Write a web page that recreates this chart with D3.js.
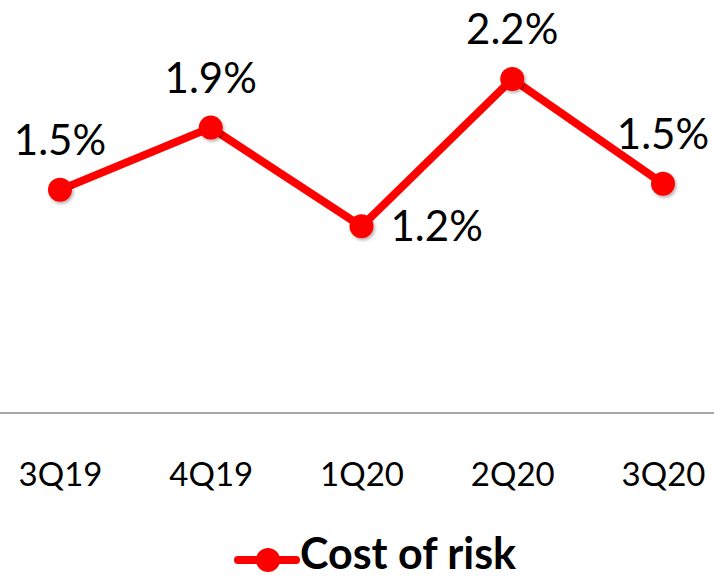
<!DOCTYPE html>
<html>
<head>
<meta charset="utf-8">
<script src="https://cdn.jsdelivr.net/npm/d3@7"></script>
<style>
  html, body { margin: 0; padding: 0; background: #fff; }
  svg { display: block; font-family: Lato, "Open Sans", sans-serif; }
</style>
</head>
<body>
<div id="chart"></div>
<script>
const quarters = ['3Q19', '4Q19', '1Q20', '2Q20', '3Q20'];
const costOfRisk = [1.47, 1.88, 1.23, 2.2, 1.51];
const valueLabels = ['1.5%', '1.9%', '1.2%', '2.2%', '1.5%'];
const labelSide = ['top', 'top', 'right', 'top', 'top'];
const seriesName = 'Cost of risk';

const width = 714, height = 578;
const red = '#ff0000';

const data = quarters.map((q, i) => ({ q, v: costOfRisk[i], label: valueLabels[i], side: labelSide[i] }));

const x = d3.scalePoint()
  .domain(quarters)
  .range([60, 663]);

const y = d3.scaleLinear()
  .domain([0, 2.5])
  .range([413, 33.5]);

const svg = d3.select('#chart').append('svg')
  .attr('width', width)
  .attr('height', height)
  .attr('viewBox', [0, 0, width, height]);

const defs = svg.append('defs');
defs.append('filter')
  .attr('id', 'shadow')
  .attr('x', '-50%').attr('y', '-50%')
  .attr('width', '200%').attr('height', '200%')
  .append('feDropShadow')
  .attr('dx', 1.5).attr('dy', 2)
  .attr('stdDeviation', 1.5)
  .attr('flood-color', '#000')
  .attr('flood-opacity', 0.3);

// baseline + category labels
const xAxis = svg.append('g')
  .attr('transform', `translate(0, ${y(0)})`)
  .call(d3.axisBottom(x).tickSize(0).tickPadding(50));

xAxis.select('.domain').remove();
xAxis.append('line')
  .attr('x1', 0).attr('x2', width)
  .attr('stroke', '#a6a6a6')
  .attr('stroke-width', 2);

xAxis.selectAll('.tick text')
  .attr('fill', '#000')
  .attr('font-family', 'Lato, sans-serif')
  .attr('font-size', 33);

const line = d3.line()
  .x(d => x(d.q))
  .y(d => y(d.v));

svg.append('path')
  .datum(data)
  .attr('fill', 'none')
  .attr('stroke', red)
  .attr('stroke-width', 8)
  .attr('stroke-linejoin', 'round')
  .attr('d', line);

svg.selectAll('circle.pt')
  .data(data)
  .join('circle')
  .attr('class', 'pt')
  .attr('cx', d => x(d.q))
  .attr('cy', d => y(d.v))
  .attr('r', 12)
  .attr('fill', red)
  .attr('filter', 'url(#shadow)');

svg.selectAll('text.val')
  .data(data)
  .join('text')
  .attr('class', 'val')
  .attr('x', d => d.side === 'right' ? x(d.q) + 29 : x(d.q))
  .attr('y', d => d.side === 'right' ? y(d.v) + 15 : y(d.v) - 35)
  .attr('text-anchor', d => d.side === 'right' ? 'start' : 'middle')
  .attr('font-size', 42)
  .attr('fill', '#000')
  .text(d => d.label);

// legend
const legend = svg.append('g')
  .attr('transform', 'translate(238, 560)');

legend.append('line')
  .attr('x1', 0).attr('x2', 58)
  .attr('stroke', red)
  .attr('stroke-width', 8)
  .attr('stroke-linecap', 'round');

legend.append('circle')
  .attr('cx', 30)
  .attr('r', 12)
  .attr('fill', red);

legend.append('text')
  .attr('x', 62)
  .attr('y', 9)
  .attr('font-size', 43)
  .attr('font-weight', 'bold')
  .attr('fill', '#000')
  .text(seriesName);
</script>
</body>
</html>
